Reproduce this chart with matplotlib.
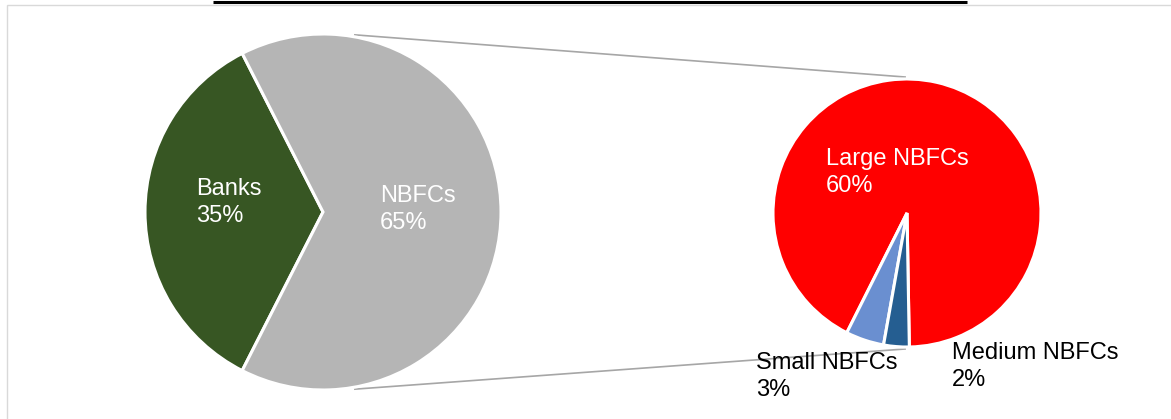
import numpy as np
import matplotlib.pyplot as plt
from matplotlib.patches import Rectangle

plt.rcParams['font.family'] = ['Liberation Sans', 'DejaVu Sans']

# main pie
main_labels = ["Banks", "NBFCs"]
main_share = [35, 65]
main_colors = ["#375623", "#B5B5B5"]
main_text = ["white", "white"]

# breakdown of NBFCs
sub_labels = ["Large NBFCs", "Small NBFCs", "Medium NBFCs"]
sub_share = [60, 3, 2]
sub_colors = ["#FF0000", "#6A8FD0", "#255E91"]
sub_text = ["white", "black", "black"]

W, H = 1171, 419
fig = plt.figure(figsize=(W / 100, H / 100), dpi=100)
ax = fig.add_axes([0, 0, 1, 1])

main_c, main_r = (323, H - 212), 178
sub_c, sub_r = (907, H - 213), 134
wp = dict(edgecolor="white", linewidth=2.2)

ax.pie(main_share, colors=main_colors, startangle=117, center=main_c,
       radius=main_r, wedgeprops=wp, frame=True)
ax.pie(sub_share, colors=sub_colors, startangle=271, center=sub_c,
       radius=sub_r, wedgeprops=wp, frame=True)

# connector lines between the two pies
for s in (1, -1):
    a1, a2 = np.deg2rad(79.8 * s), np.deg2rad(90.8 * s)
    x = [main_c[0] + (main_r + 2) * np.cos(a1), sub_c[0] + (sub_r + 2) * np.cos(a2)]
    y = [main_c[1] + (main_r + 2) * np.sin(a1), sub_c[1] + (sub_r + 2) * np.sin(a2)]
    ax.plot(x, y, color="#A6A6A6", lw=1.2, zorder=0)

# labels (top-left corner, pixels from top-left)
main_pos = [(196, 178), (380, 185)]
sub_pos = [(826, 148), (756, 352), (952, 342)]
for lab, v, col, (px, py) in zip(main_labels, main_share, main_text, main_pos):
    ax.text(px, H - py, f"{lab}\n{v}%", color=col, fontsize=17,
            ha="left", va="top", linespacing=1.32)
for lab, v, col, (px, py) in zip(sub_labels, sub_share, sub_text, sub_pos):
    ax.text(px, H - py, f"{lab}\n{v}%", color=col, fontsize=17,
            ha="left", va="top", linespacing=1.32)

# chart frame and cut-off title underline
ax.add_patch(Rectangle((7, -10), 1300, H - 5 + 10, facecolor="none",
                       edgecolor="#D9D9D9", lw=1, clip_on=False, zorder=0))
ax.plot([213, 967], [H - 2.5, H - 2.5], color="black", lw=2.2, solid_capstyle="butt")

ax.set_xlim(0, W)
ax.set_ylim(0, H)
ax.set_aspect("auto")
ax.axis("off")
fig.savefig("out.png", dpi=100)
